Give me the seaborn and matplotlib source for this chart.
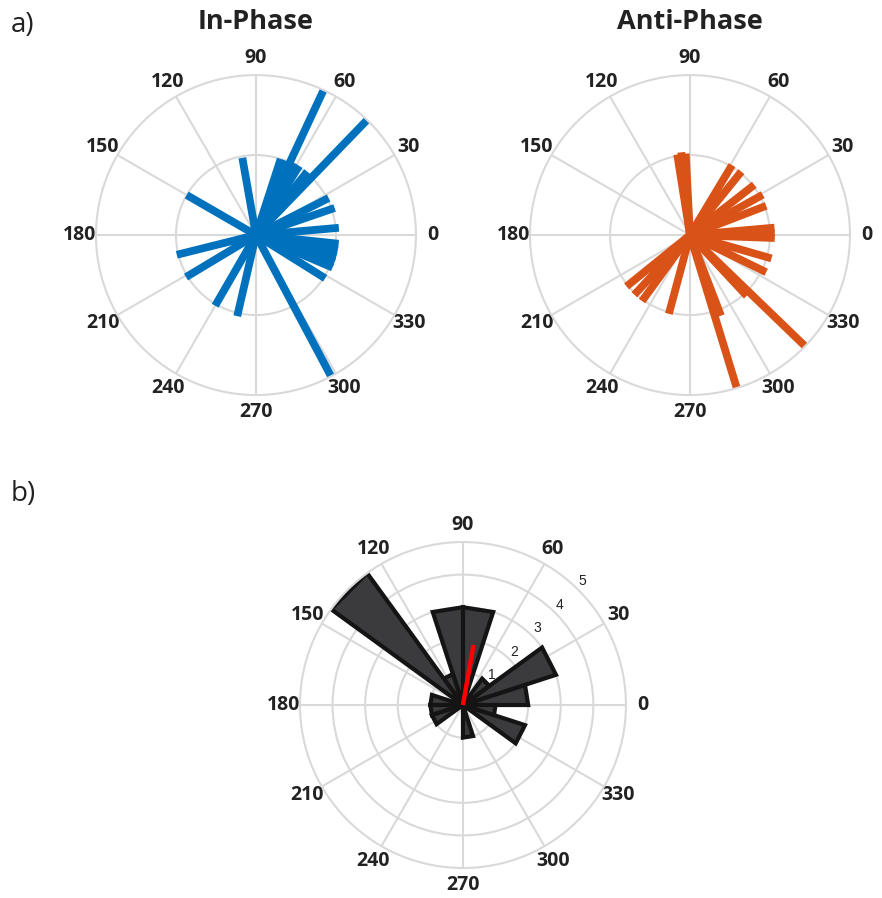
import numpy as np
import matplotlib.pyplot as plt
import seaborn as sns

# angles in degrees, lengths in axis units (outer ring = 1)
in_phase_deg = [65, 46, 298, 100, 150, 194, 211, 240, 257, 328, 337, 341, 345,
                349, 354, 5, 19, 27, 51, 58, 63, 68, 72]
in_phase_len = [1.0, 1.0, 1.0, 0.49, 0.5, 0.51, 0.51, 0.51, 0.52, 0.51, 0.52,
                0.52, 0.52, 0.52, 0.52, 0.52, 0.52, 0.51, 0.51, 0.51, 0.51, 0.5, 0.5]

anti_phase_deg = [287, 316, 93, 96, 99, 59, 51, 38, 29, 21, 5, 1, 358, 344,
                  334, 313, 291, 255, 234, 227, 219]
anti_phase_len = [1.0, 1.0, 0.51, 0.52, 0.51, 0.51, 0.51, 0.51, 0.52, 0.51,
                  0.53, 0.53, 0.53, 0.53, 0.53, 0.52, 0.54, 0.51, 0.51, 0.51, 0.51]

# rose histogram, 20 bins of 18 degrees
bin_start = np.arange(0, 360, 18)
bin_count = [2, 3, 1, 0, 3, 3, 1, 5, 0, 1, 1, 1, 0, 0, 0, 1, 0, 0, 2, 1]
mean_deg = 80
mean_len = 1.87

theta_labels = ['0', '30', '60', '90', '120', '150', '180', '210', '240',
                '270', '300', '330']

sns.set_theme(style='white')
plt.rcParams['font.family'] = ['Open Sans', 'DejaVu Sans']

grid_col = '#d9d9d9'

fig = plt.figure(figsize=(8.82, 8.98), dpi=100)


def style_polar(ax, rmax, rticks):
    ax.set_ylim(0, rmax)
    ax.set_thetagrids(np.arange(0, 360, 30), theta_labels,
                      fontsize=14, fontweight='bold', color='#222222')
    ax.set_yticks(rticks)
    ax.set_yticklabels([])
    ax.grid(True, color=grid_col, linewidth=1.5)
    ax.spines['polar'].set_color(grid_col)
    ax.spines['polar'].set_linewidth(1.5)
    ax.tick_params(axis='x', pad=5, length=0)
    ax.set_axisbelow(True)


def compass(ax, angles, lengths, color):
    for a, r in zip(angles, lengths):
        t = np.deg2rad(a)
        ax.plot([t, t], [0, r], color=color, lw=5.6, solid_capstyle='butt')


ax1 = fig.add_axes([0.1088, 0.5601, 0.3628, 0.3563], projection='polar')
style_polar(ax1, 1.0, [0.5])
compass(ax1, in_phase_deg, in_phase_len, '#0072BD')

ax2 = fig.add_axes([0.6009, 0.5601, 0.3628, 0.3563], projection='polar')
style_polar(ax2, 1.0, [0.5])
compass(ax2, anti_phase_deg, anti_phase_len, '#D95319')

ax3 = fig.add_axes([0.3401, 0.0334, 0.3696, 0.363], projection='polar')
style_polar(ax3, 5, [1, 2, 3, 4])
for b, c in zip(bin_start, bin_count):
    if c == 0:
        continue
    t1, t2 = np.deg2rad(b), np.deg2rad(b + 18)
    ax3.fill([0, t1, t2, 0], [0, c, c, 0], facecolor='#3b3b3e',
             edgecolor='#141414', linewidth=3.0, joinstyle='miter')
ax3.plot([np.deg2rad(mean_deg)] * 2, [0, mean_len], color='#ff0000', lw=3.2,
         solid_capstyle='butt')
for r in range(1, 6):
    ax3.text(np.deg2rad(46), r + 0.27, str(r), fontsize=10, ha='center',
             va='center', family=['Liberation Sans', 'DejaVu Sans'],
             color='#222222')

fig.text(0.290, 0.975, 'In-Phase', ha='center', va='center', fontsize=19.5,
         fontweight='bold', color='#222222')
fig.text(0.782, 0.975, 'Anti-Phase', ha='center', va='center', fontsize=19.5,
         fontweight='bold', color='#222222')
fig.text(0.012, 0.972, 'a)', ha='left', va='center', fontsize=20, color='#222222')
fig.text(0.012, 0.450, 'b)', ha='left', va='center', fontsize=20, color='#222222')

fig.savefig('out.png', dpi=100)
